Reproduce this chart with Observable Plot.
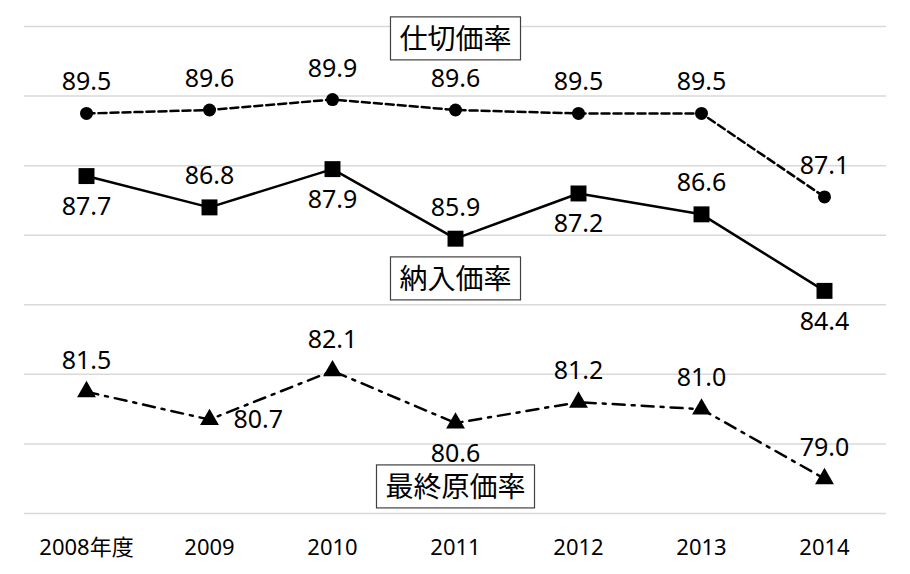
<!DOCTYPE html>
<html>
<head>
<meta charset="utf-8">
<script src="https://cdn.jsdelivr.net/npm/d3@7"></script>
<script src="https://cdn.jsdelivr.net/npm/@observablehq/plot@0.6"></script>
<style>
  html, body { margin: 0; padding: 0; background: #ffffff; }
  #chart { width: 910px; height: 574px; }
</style>
</head>
<body>
<div id="chart"></div>
<script>
// ---- data ----
const years = ["2008年度", "2009", "2010", "2011", "2012", "2013", "2014"];
const shikiri = [89.5, 89.6, 89.9, 89.6, 89.5, 89.5, 87.1];   // 仕切価率
const nonyu   = [87.7, 86.8, 87.9, 85.9, 87.2, 86.6, 84.4];   // 納入価率
const saishu  = [81.5, 80.7, 82.1, 80.6, 81.2, 81.0, 79.0];   // 最終原価率
const shikiriLabelPos = ["top", "top", "top", "top", "top", "top", "top"];
const nonyuLabelPos   = ["bottom", "top", "bottom", "top", "bottom", "top", "bottom"];
const saishuLabelPos  = ["top", "right", "top", "bottom", "top", "top", "top"];
const seriesNames = ["仕切価率", "納入価率", "最終原価率"];
const seriesNameYear = ["2011", "2011", "2011"];
const seriesNameValue = [91.6, 84.7, 78.72];
const yTicks = [78, 80, 82, 84, 86, 88, 90, 92];

const mk = (vals, pos, name) => years.map((y, i) => ({ year: y, value: vals[i], pos: pos[i], series: name }));
const s1 = mk(shikiri, shikiriLabelPos, seriesNames[0]);
const s2 = mk(nonyu, nonyuLabelPos, seriesNames[1]);
const s3 = mk(saishu, saishuLabelPos, seriesNames[2]);
const all = [...s1, ...s2, ...s3];
const nameRows = seriesNames.map((n, i) => ({ name: n, year: seriesNameYear[i], value: seriesNameValue[i] }));

const FONT = "'Noto Sans', 'Noto Sans CJK JP', sans-serif";

const labelText = d => d.value.toFixed(1);
const plot = Plot.plot({
  width: 910,
  height: 574,
  marginLeft: 24,
  marginRight: 24,
  marginTop: 26,
  marginBottom: 61,
  style: { fontFamily: FONT, background: "#ffffff", color: "#000" },
  x: { type: "point", domain: years, padding: 0.5 },
  y: { domain: [78, 92], axis: null },
  marks: [
    Plot.ruleY(yTicks, { stroke: "#d9d9d9", strokeWidth: 1.5 }),
    Plot.axisX({ tickSize: 0, tickPadding: 26, fontSize: 22, label: null, fill: "#000" }),
    Plot.line(s1, { x: "year", y: "value", stroke: "#000", strokeWidth: 2.5, strokeDasharray: "8,4" }),
    Plot.line(s2, { x: "year", y: "value", stroke: "#000", strokeWidth: 2.5 }),
    Plot.line(s3, { x: "year", y: "value", stroke: "#000", strokeWidth: 2.5, strokeDasharray: "12,7,3,7" }),
    Plot.dot(s1, { x: "year", y: "value", symbol: "circle", r: 6.5, fill: "#000" }),
    Plot.dot(s2, { x: "year", y: "value", symbol: "square", r: 9, fill: "#000" }),
    Plot.dot(s3, { x: "year", y: "value", symbol: "triangle", r: 7, fill: "#000" }),
    Plot.text(all.filter(d => d.pos === "top"), { x: "year", y: "value", text: labelText, dy: -31, fontSize: 25, fill: "#000" }),
    Plot.text(all.filter(d => d.pos === "bottom"), { x: "year", y: "value", text: labelText, dy: 31, fontSize: 25, fill: "#000" }),
    Plot.text(all.filter(d => d.pos === "right"), { x: "year", y: "value", text: labelText, dx: 24, textAnchor: "start", fontSize: 25, fill: "#000" }),
    Plot.text(nameRows, { x: "year", y: "value", text: "name", fontSize: 28, fill: "#000" })
  ]
});

document.getElementById("chart").appendChild(plot);

// draw the boxes around the series-name labels
function drawBoxes() {
  d3.select(plot).selectAll("text")
    .filter(function () { return seriesNames.includes(this.textContent); })
    .each(function () {
      const b = this.getBBox();
      const padX = 9, h = 43;
      const cy = b.y + b.height / 2;
      const t = this.getAttribute("transform");
      const r = d3.select(this.parentNode).insert("rect", () => this)
        .attr("x", b.x - padX)
        .attr("y", cy - h / 2)
        .attr("width", b.width + 2 * padX)
        .attr("height", h)
        .attr("fill", "#fff")
        .attr("stroke", "#404040")
        .attr("stroke-width", 1.2);
      if (t) r.attr("transform", t);
    });
}
if (document.fonts && document.fonts.ready) {
  document.fonts.ready.then(drawBoxes);
} else {
  drawBoxes();
}
</script>
</body>
</html>
